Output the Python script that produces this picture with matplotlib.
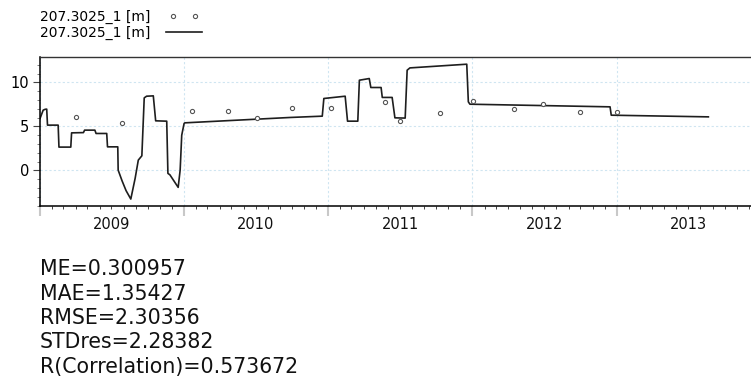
import numpy as np
import pandas as pd
import matplotlib
matplotlib.use('Agg')
import matplotlib.pyplot as plt
import matplotlib.dates as mdates
from matplotlib.legend_handler import HandlerLine2D

# Наблюдения (уровень, м)
obs_dates = ['2009-04-01', '2009-07-27', '2010-01-20', '2010-04-21', '2010-07-05',
             '2010-10-02', '2011-01-09', '2011-05-26', '2011-07-03', '2011-10-12',
             '2012-01-04', '2012-04-16', '2012-06-29', '2012-10-01', '2013-01-01']
obs_values = [6.06, 5.41, 6.77, 6.77, 5.98,
              7.12, 7.12, 7.80, 5.64, 6.55,
              7.91, 7.00, 7.53, 6.70, 6.66]

# Расчетный ряд
sim_dates = ['2009-01-01', '2009-01-09', '2009-01-14', '2009-01-18', '2009-01-20',
             '2009-02-16', '2009-02-18', '2009-03-20', '2009-03-22', '2009-04-21',
             '2009-04-24', '2009-05-20', '2009-05-23', '2009-06-19', '2009-06-21',
             '2009-07-17', '2009-07-18', '2009-07-28', '2009-08-07', '2009-08-19',
             '2009-08-30', '2009-09-07', '2009-09-16', '2009-09-22', '2009-09-28',
             '2009-10-15', '2009-10-21', '2009-11-18', '2009-11-21', '2009-11-26',
             '2009-12-17', '2009-12-22', '2009-12-26', '2010-01-01', '2010-01-03',
             '2010-09-26', '2010-12-17', '2010-12-21', '2011-02-13', '2011-02-19',
             '2011-03-17', '2011-03-21', '2011-04-15', '2011-04-19', '2011-05-15',
             '2011-05-18', '2011-06-12', '2011-06-19', '2011-07-15', '2011-07-20',
             '2011-07-27', '2011-12-18', '2011-12-22', '2011-12-26', '2012-12-15',
             '2012-12-18', '2013-08-21']
sim_values = [5.90, 6.85, 6.95, 6.97, 5.15,
              5.15, 2.65, 2.65, 4.27, 4.30,
              4.58, 4.58, 4.20, 4.20, 2.68,
              2.68, 0.03, -1.20, -2.30, -3.26,
              -0.90, 1.17, 1.66, 8.25, 8.44,
              8.48, 5.64, 5.60, -0.34, -0.50,
              -1.93, 0.03, 4.00, 5.34, 5.41,
              6.02, 6.17, 8.18, 8.44, 5.60,
              5.60, 10.26, 10.45, 9.43, 9.43,
              8.30, 8.30, 5.98, 5.95, 11.40,
              11.66, 12.08, 7.80, 7.53, 7.23,
              6.28, 6.09]

years = [2009, 2010, 2011, 2012, 2013]
stats = ['ME=0.300957', 'MAE=1.35427', 'RMSE=2.30356',
         'STDres=2.28382', 'R(Correlation)=0.573672']
series_name = '207.3025_1 [m]'

obs_t = pd.to_datetime(obs_dates)
sim_t = pd.to_datetime(sim_dates)

W, H = 751, 380
fig = plt.figure(figsize=(W / 100, H / 100), dpi=100)
ax = fig.add_axes([40 / W, (H - 206) / H, 711 / W, 149 / H])

grid_color = '#cfe5f1'
l_obs, = ax.plot(obs_t, obs_values, linestyle='none', marker='o', markersize=3,
                 markerfacecolor='white', markeredgecolor='#555555',
                 markeredgewidth=0.8, label=series_name, zorder=3)
l_sim, = ax.plot(sim_t, sim_values, color='#1e1e1e', lw=1.2,
                 label=series_name, zorder=2)

ax.set_xlim(pd.Timestamp('2009-01-01'), pd.Timestamp('2013-12-07'))
ax.set_ylim(-4.05, 12.9)

# Оси и сетка
ax.xaxis.set_major_locator(mdates.YearLocator())
ax.xaxis.set_minor_locator(mdates.MonthLocator())
ax.xaxis.set_major_formatter(plt.NullFormatter())
ax.tick_params(axis='x', which='major', length=7.5, width=1.5, color='#c8c8c8')
ax.tick_params(axis='x', which='minor', length=2.2, width=0.7, color='#444444')

ax.set_yticks([0, 5, 10])
ax.set_yticks(np.arange(-4, 13), minor=True)
ax.tick_params(axis='y', which='major', length=5, width=0.8, color='#444444',
               labelsize=10.5, pad=3)
ax.tick_params(axis='y', which='minor', length=2.5, width=0.6, color='#666666')

ax.grid(True, which='major', color=grid_color, lw=0.8, linestyle=(0, (2, 2)))

for s in ['left', 'bottom']:
    ax.spines[s].set_linewidth(1.1)
    ax.spines[s].set_color('black')
ax.spines['top'].set_linewidth(1.0)
ax.spines['top'].set_color('#333333')
ax.spines['right'].set_visible(False)

# Подписи годов по центру интервалов
for y in years:
    mid = pd.Timestamp(f'{y}-07-02')
    ax.text(mid, -0.125, str(y), transform=ax.get_xaxis_transform(),
            ha='center', va='center', fontsize=10.5, color='#111111')

# Легенда
leg = fig.legend(handles=[l_obs, l_sim], loc='upper left',
                 bbox_to_anchor=(37 / W, 1 - 7 / H), frameon=False,
                 markerfirst=False, numpoints=2, handlelength=3.2,
                 handletextpad=0.85, labelspacing=0.15, fontsize=10,
                 borderpad=0.2, borderaxespad=0,
                 handler_map={l_obs: HandlerLine2D(marker_pad=0.8)})

# Статистика
for i, line in enumerate(stats):
    fig.text(40 / W, 1 - (275 + 24.5 * i) / H, line, fontsize=14.8,
             ha='left', va='baseline', color='#111111')

fig.savefig('out.png', dpi=100)
